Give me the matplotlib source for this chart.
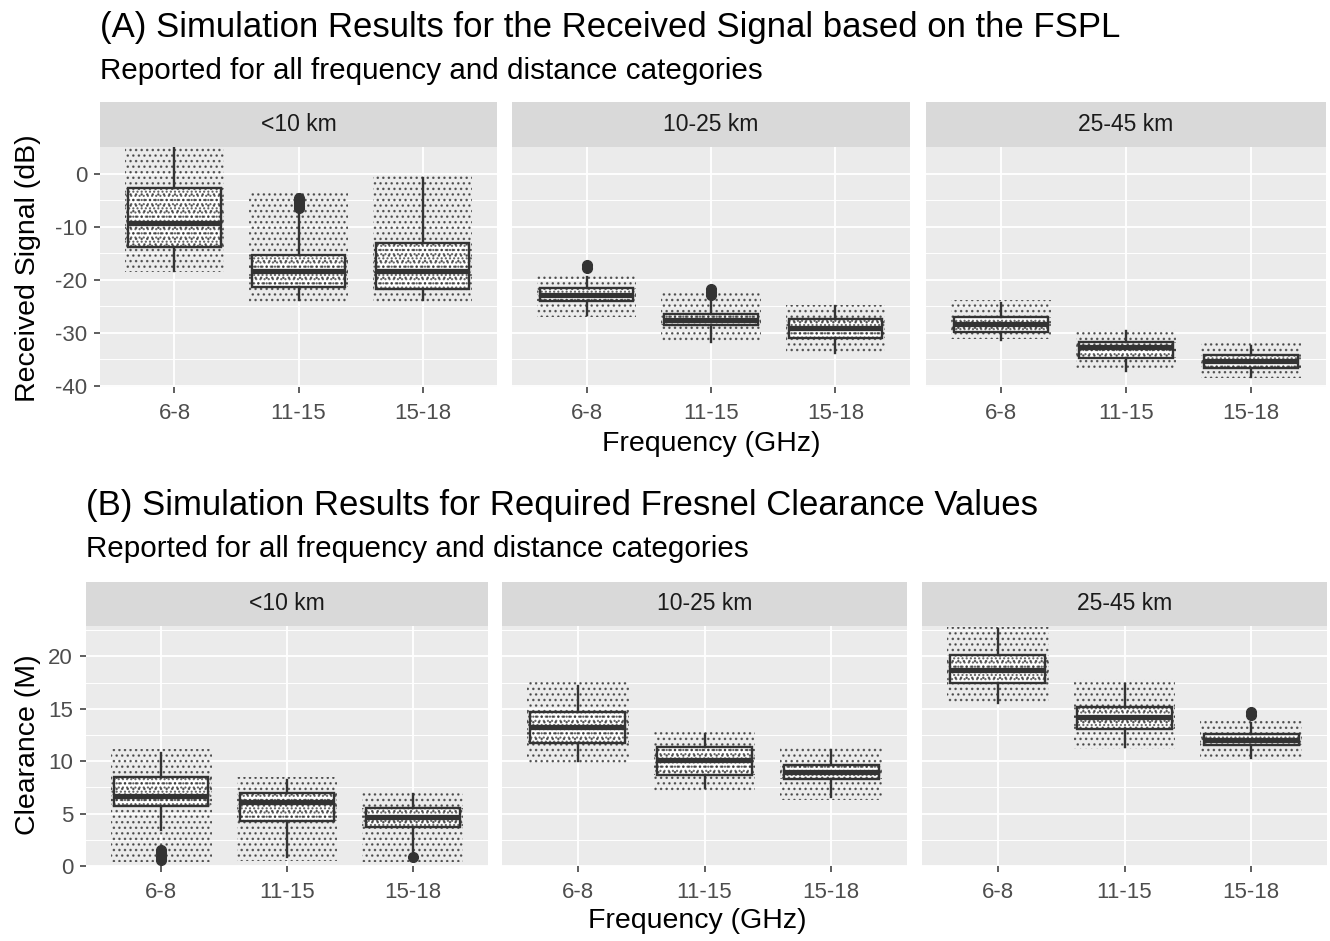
import numpy as np
import matplotlib.pyplot as plt
from matplotlib.patches import Rectangle

plt.rcParams['font.family'] = ['Liberation Sans', 'DejaVu Sans']
plt.rcParams['hatch.linewidth'] = 1.0

W, H = 1330, 941

freqs = ['6-8', '11-15', '15-18']
dists = ['<10 km', '10-25 km', '25-45 km']

# (A) received signal in dB, one row per distance, one entry per frequency
sig_q1 = [[-13.8, -21.3, -21.7], [-24.0, -28.6, -31.0], [-29.9, -34.7, -36.6]]
sig_med = [[-9.4, -18.3, -18.4], [-22.8, -27.5, -29.1], [-28.4, -32.6, -35.3]]
sig_q3 = [[-2.8, -15.4, -13.0], [-21.6, -26.4, -27.3], [-27.0, -31.8, -34.2]]
sig_wlo = [[-18.4, -23.9, -23.9], [-26.6, -31.7, -33.8], [-31.3, -37.2, -38.4]]
sig_whi = [[5.5, -7.2, -0.9], [-19.4, -23.5, -25.0], [-24.4, -29.7, -32.5]]
sig_out = [[[], [-4.6, -5.1, -5.6, -6.1, -6.5], []],
           [[-17.3, -17.8], [-21.8, -22.3, -22.8], []],
           [[], [], []]]
# spread of the raw (jittered) points: (low, high)
sig_pts = [[(-18.5, 5.0), (-24.2, -3.2), (-24.2, -0.4)],
           [(-27.0, -19.0), (-32.0, -22.3), (-33.8, -24.8)],
           [(-31.2, -23.8), (-37.0, -29.2), (-38.5, -32.0)]]

# (B) Fresnel clearance in m
clr_q1 = [[5.7, 4.3, 3.7], [11.7, 8.7, 8.3], [17.5, 13.1, 11.5]]
clr_med = [[6.7, 6.1, 4.7], [13.3, 10.1, 9.0], [18.7, 14.2, 12.0]]
clr_q3 = [[8.5, 7.0, 5.5], [14.7, 11.4, 9.6], [20.1, 15.2, 12.6]]
clr_wlo = [[3.4, 0.9, 1.4], [10.0, 7.4, 6.6], [15.6, 11.4, 10.3]]
clr_whi = [[10.8, 8.2, 6.9], [17.2, 12.6, 11.1], [22.6, 17.4, 13.6]]
clr_out = [[[0.6, 0.9, 1.2, 1.5], [], [0.9]],
           [[], [], []],
           [[], [], [14.4, 14.7]]]
clr_pts = [[(0.4, 11.2), (0.5, 8.5), (0.4, 7.2)],
           [(9.7, 17.6), (7.0, 13.0), (6.3, 11.3)],
           [(15.6, 22.8), (11.2, 17.8), (10.1, 14.0)]]

DARK = '#333333'
TXT = '#4D4D4D'
DOTS = (0.2, 0.2, 0.2, 0.75)


def px_axes(fig, x0, y0, x1, y1, **kw):
    return fig.add_axes([x0 / W, 1 - y1 / H, (x1 - x0) / W, (y1 - y0) / H], **kw)


def draw_row(fig, panels, strip_top, top, bottom, ylim, yticks, yminor,
             q1, med, q3, wlo, whi, out, pts):
    axes = []
    for j, (x0, x1) in enumerate(panels):
        ax = px_axes(fig, x0, top, x1, bottom)
        ax.set_facecolor('#EBEBEB')
        for s in ax.spines.values():
            s.set_visible(False)
        stats = []
        for i in range(3):
            stats.append(dict(med=med[j][i], q1=q1[j][i], q3=q3[j][i],
                              whislo=wlo[j][i], whishi=whi[j][i],
                              fliers=out[j][i]))
        ax.bxp(stats, positions=[1, 2, 3], widths=0.75, patch_artist=True,
               showcaps=False,
               boxprops=dict(facecolor='white', edgecolor=DARK, linewidth=1.7),
               medianprops=dict(color=DARK, linewidth=3.8),
               whiskerprops=dict(color=DARK, linewidth=1.7),
               flierprops=dict(marker='o', markerfacecolor=DARK,
                               markeredgecolor=DARK, markersize=7))
        # raw points: sparse over their full spread, denser inside the box
        for i in range(3):
            lo, hi = pts[j][i]
            ax.add_patch(Rectangle((i + 1 - 0.4, lo), 0.8, hi - lo, fill=False,
                                   hatch='...', edgecolor=DOTS,
                                   linewidth=0, zorder=4))
            ax.add_patch(Rectangle((i + 1 - 0.4, q1[j][i]), 0.8, q3[j][i] - q1[j][i],
                                   fill=False, hatch='....', edgecolor=DOTS,
                                   linewidth=0, zorder=4))
        ax.set_xlim(0.4, 3.6)
        ax.set_ylim(*ylim)
        ax.set_xticks([1, 2, 3])
        ax.set_xticklabels(freqs)
        ax.set_yticks(yticks)
        ax.set_yticks(yminor, minor=True)
        ax.grid(True, which='major', color='white', linewidth=1.3, zorder=0)
        ax.grid(True, which='minor', axis='y', color='white', linewidth=0.7, zorder=0)
        ax.set_axisbelow(True)
        ax.tick_params(which='major', length=4.3, width=1.1, color=DARK,
                       labelcolor=TXT, labelsize=16, pad=5)
        ax.tick_params(axis='x', pad=7)
        ax.tick_params(which='minor', length=0)
        if j > 0:
            ax.tick_params(axis='y', left=False, labelleft=False)
        else:
            ax.set_yticklabels([str(t) for t in yticks])
        # strip
        st = px_axes(fig, x0, strip_top, x1, top)
        st.set_facecolor('#D9D9D9')
        st.set_xticks([])
        st.set_yticks([])
        for s in st.spines.values():
            s.set_visible(False)
        st.text(0.5, 0.5, dists[j], ha='center', va='center', fontsize=16.5,
                color='#1A1A1A', transform=st.transAxes)
        axes.append(ax)
    return axes


fig = plt.figure(figsize=(W / 100, H / 100), dpi=100)

# (A)
fig.text(100 / W, 1 - 28 / H, '(A) Simulation Results for the Received Signal based on the FSPL',
         fontsize=25, va='center', ha='left', color='black')
fig.text(100 / W, 1 - 71 / H, 'Reported for all frequency and distance categories',
         fontsize=21.3, va='center', ha='left', color='black')
draw_row(fig, [(100, 497), (512, 910), (926, 1326)], 102, 147, 387,
         (-40.2, 5.0), [0, -10, -20, -30, -40], [-35, -25, -15, -5],
         sig_q1, sig_med, sig_q3, sig_wlo, sig_whi, sig_out, sig_pts)
fig.text(711 / W, 1 - 444 / H, 'Frequency (GHz)', fontsize=20.5, ha='center', va='center')
fig.text(28 / W, 1 - 268 / H, 'Received Signal (dB)', fontsize=20.5, rotation=90,
         ha='center', va='center')

# (B)
fig.text(86 / W, 1 - 505 / H, '(B) Simulation Results for Required Fresnel Clearance Values',
         fontsize=25, va='center', ha='left', color='black')
fig.text(86 / W, 1 - 549 / H, 'Reported for all frequency and distance categories',
         fontsize=21.3, va='center', ha='left', color='black')
draw_row(fig, [(86, 488), (502, 907), (922, 1327)], 582, 626, 866,
         (0.0, 22.9), [0, 5, 10, 15, 20], [2.5, 7.5, 12.5, 17.5, 22.5],
         clr_q1, clr_med, clr_q3, clr_wlo, clr_whi, clr_out, clr_pts)
fig.text(697 / W, 1 - 921 / H, 'Frequency (GHz)', fontsize=20.5, ha='center', va='center')
fig.text(28 / W, 1 - 745 / H, 'Clearance (M)', fontsize=20.5, rotation=90,
         ha='center', va='center')

fig.savefig('out.png', dpi=100, facecolor='white')
